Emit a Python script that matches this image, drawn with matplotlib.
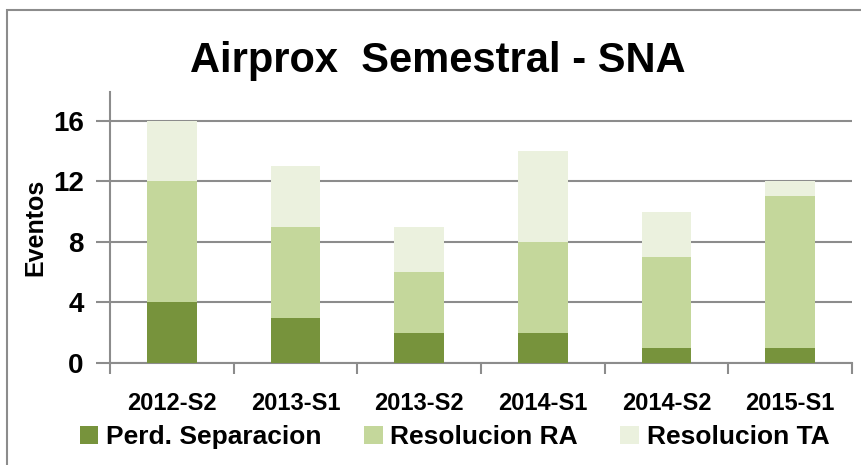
import matplotlib
matplotlib.use("Agg")
from matplotlib import pyplot as plt, patches
import numpy as np

periods = ["2012-S2", "2013-S1", "2013-S2", "2014-S1", "2014-S2", "2015-S1"]
perd_separacion = [4, 3, 2, 2, 1, 1]
resolucion_ra = [8, 6, 4, 6, 6, 10]
resolucion_ta = [4, 4, 3, 6, 3, 1]
series_names = ["Perd. Separacion", "Resolucion RA", "Resolucion TA"]
y_ticks = [0, 4, 8, 12, 16]

colors = ["#77933C", "#C4D79B", "#EBF1DE"]
font = "Liberation Sans"

fig = plt.figure(figsize=(8.61, 4.65), dpi=100)
ax = fig.add_axes([0.1278, 0.2194, 0.8617, 0.5828])

# outer chart frame (only left/top edges are visible in the crop)
fig.patches.append(patches.Rectangle((7 / 861, -0.1), 1.2, 1 - 10 / 465 + 0.1,
                                     transform=fig.transFigure, fill=False,
                                     edgecolor="#8c8c8c", linewidth=1.5))

x = np.arange(len(periods))
bottom = np.zeros(len(periods))
for vals, name, c in zip([perd_separacion, resolucion_ra, resolucion_ta], series_names, colors):
    ax.bar(x, vals, width=0.4, bottom=bottom, color=c, label=name, zorder=3)
    bottom += np.array(vals)

ax.set_xlim(-0.5, len(periods) - 0.5)
ax.set_ylim(0, 17.9)
ax.set_yticks(y_ticks)
ax.set_yticklabels([str(t) for t in y_ticks], fontsize=20, fontweight="bold", family=font)
ax.set_xticks(x)
ax.set_xticklabels(periods, fontsize=17, fontweight="bold", family=font)
ax.set_xticks(np.arange(len(periods) + 1) - 0.5, minor=True)
ax.tick_params(axis="x", which="major", length=0, pad=21)
ax.tick_params(axis="x", which="minor", length=8, width=1.5, color="#8c8c8c")
ax.tick_params(axis="y", length=10, width=1.5, color="#8c8c8c", pad=9)
ax.grid(axis="y", color="#8c8c8c", linewidth=1.5, zorder=0)

for s in ["top", "right"]:
    ax.spines[s].set_visible(False)
for s in ["left", "bottom"]:
    ax.spines[s].set_color("#8c8c8c")
    ax.spines[s].set_linewidth(1.5)

ax.set_ylabel("Eventos", fontsize=18, fontweight="bold", family=font, labelpad=4)

fig.text(0.509, 0.868, "Airprox  Semestral - SNA", ha="center", va="center",
         fontsize=30, fontweight="bold", family=font)

fig.legend(loc="center", bbox_to_anchor=(0.528, 0.06), ncol=3, frameon=False,
           prop={"family": font, "weight": "bold", "size": 19},
           handlelength=0.7, handleheight=0.7, handletextpad=0.3, columnspacing=1.6)

fig.savefig("out.png", dpi=100)
